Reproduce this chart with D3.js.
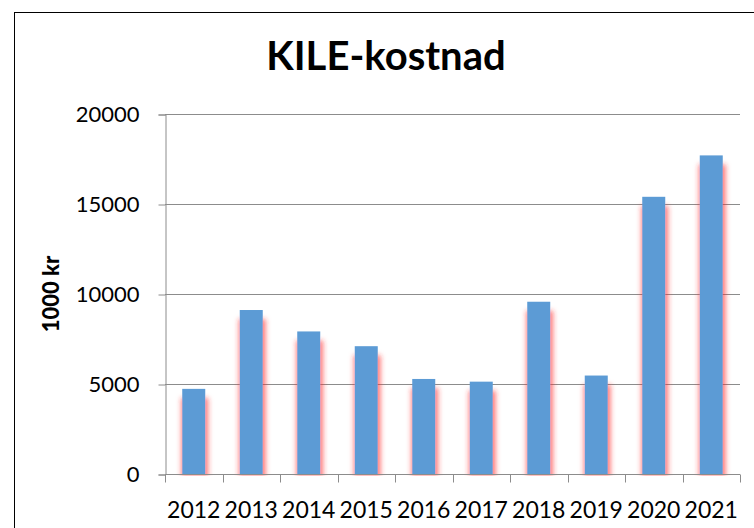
<!DOCTYPE html>
<html><head><meta charset="utf-8">
<script src="https://cdn.jsdelivr.net/npm/d3@7"></script>
<style>body{margin:0;background:#fff}svg{display:block}</style>
</head><body>
<script>
const categories = ["2012","2013","2014","2015","2016","2017","2018","2019","2020","2021"];
const values = [4730, 9110, 7920, 7100, 5280, 5130, 9570, 5470, 15400, 17700];
const yTicks = [0, 5000, 10000, 15000, 20000];
const title = "KILE-kostnad";
const yLabel = "1000 kr";

(function(){
const W = 754, H = 528;
const svg = d3.select("body").append("svg").attr("width", W).attr("height", H);
const defs = svg.append("defs");
const f = defs.append("filter").attr("id","glow").attr("x","-60%").attr("y","-20%").attr("width","220%").attr("height","140%");
f.append("feMorphology").attr("in","SourceAlpha").attr("operator","dilate").attr("radius","2 0").attr("result","dil");
f.append("feOffset").attr("in","dil").attr("dx",1).attr("dy",9).attr("result","off");
f.append("feGaussianBlur").attr("in","off").attr("stdDeviation",2.8).attr("result","blur");
f.append("feFlood").attr("flood-color","#ff2a2a").attr("flood-opacity",0.6).attr("result","col");
f.append("feComposite").attr("in","col").attr("in2","blur").attr("operator","in").attr("result","sh");
const m = f.append("feMerge");
m.append("feMergeNode").attr("in","sh");
m.append("feMergeNode").attr("in","SourceGraphic");

// outer border (cropped on right/bottom)
svg.append("rect").attr("x",14.5).attr("y",12.5).attr("width",800).attr("height",600)
  .attr("fill","none").attr("stroke","#000").attr("stroke-width",1);

const pl = 165, pr = 740, pt = 114, pb = 474;
const x = d3.scaleBand().domain(categories).range([pl, pr]).paddingInner(0.6).paddingOuter(0.3);
const y = d3.scaleLinear().domain([0, 20000]).range([pb, pt]);

defs.append("clipPath").attr("id","plotclip").append("rect")
  .attr("x",pl).attr("y",0).attr("width",pr-pl+20).attr("height",pb+1.5);

const font = "Lato, 'Open Sans', sans-serif";

// gridlines
svg.append("g").selectAll("line").data(yTicks.filter(d=>d>0)).join("line")
  .attr("x1", pl).attr("x2", pr).attr("y1", d=>Math.round(y(d))+0.5).attr("y2", d=>Math.round(y(d))+0.5)
  .attr("stroke","#8c8c8c").attr("stroke-width",1);

// bars
svg.append("g").attr("clip-path","url(#plotclip)").selectAll("rect").data(values).join("rect")
  .attr("x",(d,i)=>x(categories[i])).attr("width",x.bandwidth())
  .attr("y",d=>y(d)).attr("height",d=>pb-y(d))
  .attr("fill","#5b9bd5").attr("filter","url(#glow)");

// y axis
const yAxis = d3.axisLeft(y).tickValues(yTicks).tickSize(7).tickPadding(19).tickFormat(d3.format("d"));
const gy = svg.append("g").attr("transform",`translate(${pl+0.5},0.5)`).call(yAxis);
gy.select(".domain").attr("stroke","#8c8c8c");
gy.selectAll(".tick line").attr("stroke","#8c8c8c");
gy.selectAll(".tick text").attr("font-family",font).attr("font-size",22).attr("fill","#000");

// x axis
const xb = d3.scaleLinear().domain([0, categories.length]).range([pl, pr]);
const gx = svg.append("g").attr("transform",`translate(0,${pb+0.5})`);
gx.append("line").attr("x1",pl).attr("x2",pr).attr("stroke","#8c8c8c");
gx.selectAll("line.t").data(d3.range(categories.length+1)).join("line").attr("class","t")
  .attr("x1",d=>Math.round(xb(d))+0.5).attr("x2",d=>Math.round(xb(d))+0.5).attr("y1",0).attr("y2",8)
  .attr("stroke","#8c8c8c");
gx.selectAll("text").data(categories).join("text")
  .attr("x",d=>x(d)+x.bandwidth()/2).attr("y",43).attr("text-anchor","middle")
  .attr("font-family",font).attr("font-size",23).attr("fill","#000").text(d=>d);

// title
svg.append("text").attr("x",386).attr("y",70).attr("text-anchor","middle")
  .attr("font-family",font).attr("font-weight","bold").attr("font-size",40).attr("fill","#000").text(title);

// y label
svg.append("text").attr("transform","translate(59,294) rotate(-90)").attr("text-anchor","middle")
  .attr("font-family",font).attr("font-weight","900").attr("font-size",22).attr("fill","#000").text(yLabel);
})();
</script>
</body></html>
